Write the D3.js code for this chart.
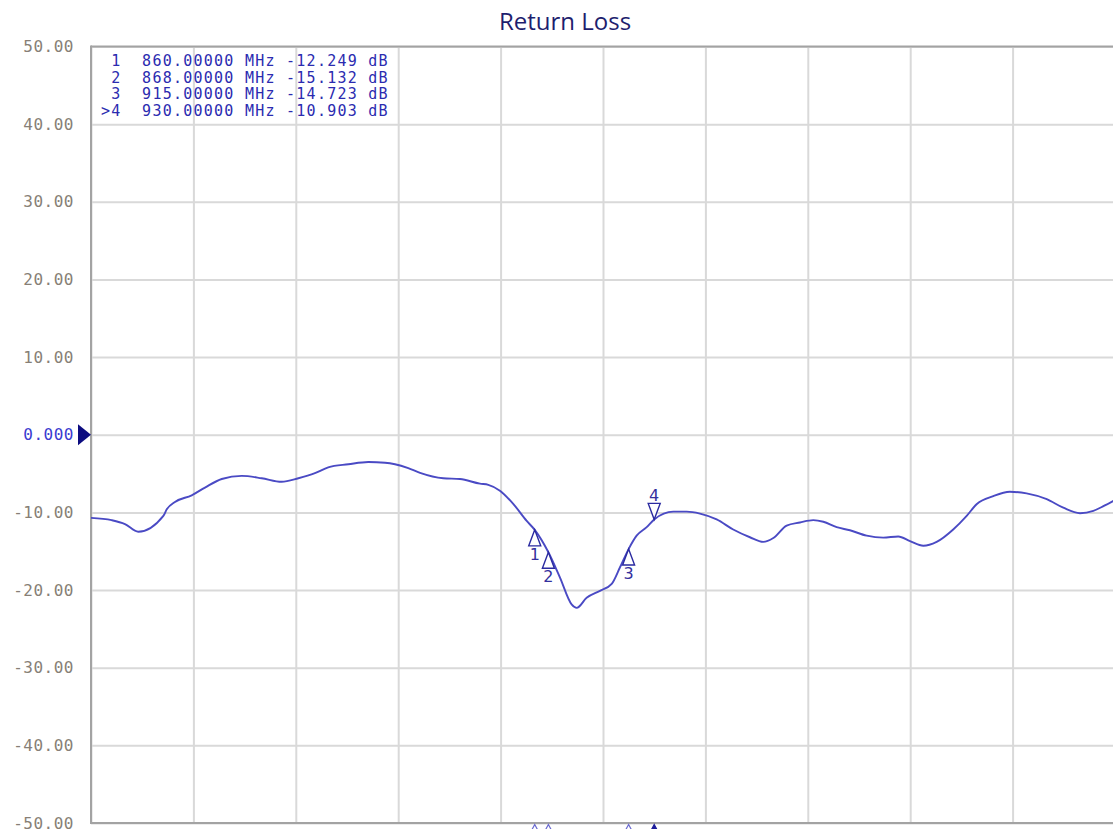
<!DOCTYPE html>
<html><head><meta charset="utf-8">
<script src="https://cdn.jsdelivr.net/npm/d3@7"></script>
<style>
body{margin:0;background:#fff;}
svg{display:block;}
</style>
</head><body>
<svg id="chart" width="1113" height="829"></svg>
<script>
// ---- data ----
const titleText = "Return Loss";
const freqMHz = [600, 612.1, 619.9, 627.7, 642.4, 644.4, 649.2, 659.0, 666.8, 676.6, 688.3, 700.0, 711.7, 721.5, 731.2, 739.0, 750.8, 762.5, 772.3, 778.1, 785.9, 792.8, 806.4, 816.2, 827.9, 832.8, 839.6, 847.4, 855.3, 860, 868, 874.8, 881.6, 884.6, 890.4, 898.2, 905.1, 909.9, 915, 919.7, 925.6, 930, 941.2, 949.0, 956.8, 966.6, 976.3, 986.1, 993.9, 999.8, 1007.6, 1015.4, 1023.2, 1029.1, 1036.9, 1044.7, 1054.5, 1064.2, 1073.0, 1079.9, 1087.7, 1095.5, 1105.2, 1113.1, 1118.9, 1128.7, 1138.4, 1148.2, 1160.0, 1169.7, 1179.5, 1187.3, 1193.2, 1200];
const returnLossDb = [-10.7, -11.0, -11.5, -12.5, -10.45, -9.6, -8.65, -7.8, -6.8, -5.7, -5.3, -5.6, -6.06, -5.6, -4.95, -4.2, -3.8, -3.5, -3.6, -3.8, -4.3, -4.9, -5.6, -5.7, -6.3, -6.45, -7.2, -8.9, -11.1, -12.249, -15.132, -18.4, -21.85, -22.3, -21.0, -20.1, -19.2, -17.1, -14.723, -13.0, -11.9, -10.903, -9.9, -9.9, -10.15, -10.9, -12.2, -13.2, -13.8, -13.3, -11.7, -11.3, -11.0, -11.2, -11.9, -12.3, -13.0, -13.25, -13.1, -13.7, -14.3, -13.8, -12.2, -10.45, -8.95, -7.9, -7.35, -7.55, -8.3, -9.4, -10.1, -9.8, -9.2, -8.4];
const markerIds = ["1", "2", "3", "4"];
const markerFreqMHz = [860, 868, 915, 930];
const markerDb = [-12.249, -15.132, -14.723, -10.903];
const activeMarker = "4";
const yTicks = [50, 40, 30, 20, 10, 0, -10, -20, -30, -40, -50];
const xTicks = [600, 660, 720, 780, 840, 900, 960, 1020, 1080, 1140, 1200];
const refLevel = 0;

// ---- layout ----
const svg = d3.select("#chart");
const pLeft = 91, pRight = 1115, pTop = 46.5, pBottom = 823;
const x = d3.scaleLinear().domain([600, 1200]).range([pLeft, pRight]);
const y = d3.scaleLinear().domain([-50, 50]).range([pBottom, pTop]);

const gridColor = "#d9d9d9";
const frameColor = "#a3a3a3";
const monoFont = "'DejaVu Sans Mono', monospace";

// title
svg.append("text")
  .attr("x", 565).attr("y", 30)
  .attr("text-anchor", "middle")
  .style("font-family", "'Open Sans', sans-serif")
  .style("font-size", "24px")
  .style("fill", "#1e1e6e")
  .text(titleText);

// vertical grid
const gx = svg.append("g").attr("transform", `translate(0,${pBottom})`)
  .call(d3.axisBottom(x).tickValues(xTicks).tickSize(-(pBottom - pTop)).tickFormat(""));
gx.select(".domain").remove();
gx.selectAll(".tick line").attr("stroke", gridColor).attr("stroke-width", 2);

// horizontal grid + labels
const gy = svg.append("g").attr("transform", `translate(${pLeft},0)`)
  .call(d3.axisLeft(y).tickValues(yTicks).tickSize(-(pRight - pLeft)).tickPadding(17)
    .tickFormat(v => v === refLevel ? "0.000" : v.toFixed(2)));
gy.select(".domain").remove();
gy.selectAll(".tick line").attr("stroke", gridColor).attr("stroke-width", 2);
gy.selectAll(".tick text")
  .style("font-family", monoFont)
  .style("font-size", "16px")
  .style("letter-spacing", "0.5px")
  .style("fill", d => d === refLevel ? "#3a3ad0" : "#877f76");

// frame: top, left, bottom
svg.append("line").attr("x1", pLeft).attr("x2", pRight).attr("y1", pTop).attr("y2", pTop)
  .attr("stroke", frameColor).attr("stroke-width", 2);
svg.append("line").attr("x1", pLeft).attr("x2", pRight).attr("y1", pBottom).attr("y2", pBottom)
  .attr("stroke", frameColor).attr("stroke-width", 2);
svg.append("line").attr("x1", pLeft).attr("x2", pLeft).attr("y1", pTop - 1).attr("y2", pBottom + 1)
  .attr("stroke", frameColor).attr("stroke-width", 2);

// reference level arrow
const ry = y(refLevel);
svg.append("path")
  .attr("d", `M${pLeft - 13},${ry - 10.5}L${pLeft},${ry}L${pLeft - 13},${ry + 10.5}Z`)
  .attr("fill", "#0c0c80");

// trace
const pts = freqMHz.map((f, i) => [f, returnLossDb[i]]);
svg.append("path")
  .datum(pts)
  .attr("fill", "none")
  .attr("stroke", "#4a4ac4")
  .attr("stroke-width", 1.9)
  .attr("stroke-linejoin", "round")
  .attr("d", d3.line().x(d => x(d[0])).y(d => y(d[1])).curve(d3.curveMonotoneX));

// markers on trace
const markers = markerIds.map((id, i) => ({id, f: markerFreqMHz[i], v: markerDb[i]}));
const mg = svg.append("g");
markers.forEach(m => {
  const mx = x(m.f), my = y(m.v);
  const up = m.id !== activeMarker; // active marker drawn above the trace
  const h = 16, w = 6;
  const by = up ? my + h : my - h;
  mg.append("path")
    .attr("d", `M${mx},${my}L${mx - w},${by}L${mx + w},${by}Z`)
    .attr("fill", "#fff").attr("fill-opacity", 0.85)
    .attr("stroke", "#2a2aa0").attr("stroke-width", 1.4);
  mg.append("text")
    .attr("x", mx).attr("y", up ? by + 14 : by - 2)
    .attr("text-anchor", "middle")
    .style("font-family", "'DejaVu Sans', sans-serif")
    .style("font-size", "16px")
    .style("fill", "#34309e")
    .text(m.id);
  // small marker indicator on bottom edge
  mg.append("path")
    .attr("d", `M${mx},${pBottom + 1.5}L${mx - 3.5},${pBottom + 8}L${mx + 3.5},${pBottom + 8}Z`)
    .attr("fill", m.id === activeMarker ? "#1c1c9a" : "#fff")
    .attr("stroke", m.id === activeMarker ? "#1c1c9a" : "#6a6ad0")
    .attr("stroke-width", 1.2);
});

// marker readout
const lg = svg.append("g");
markers.forEach((m, i) => {
  const s = `${m.id === activeMarker ? ">" : " "}${m.id}  ${m.f.toFixed(5)} MHz ${m.v.toFixed(3)} dB`;
  lg.append("text")
    .attr("x", 101).attr("y", 66 + i * 16.6)
    .attr("xml:space", "preserve")
    .style("white-space", "pre")
    .style("font-family", monoFont)
    .style("font-size", "15px")
    .style("letter-spacing", "1.25px")
    .style("fill", "#2b2bb0")
    .text(s);
});
</script>
</body></html>
